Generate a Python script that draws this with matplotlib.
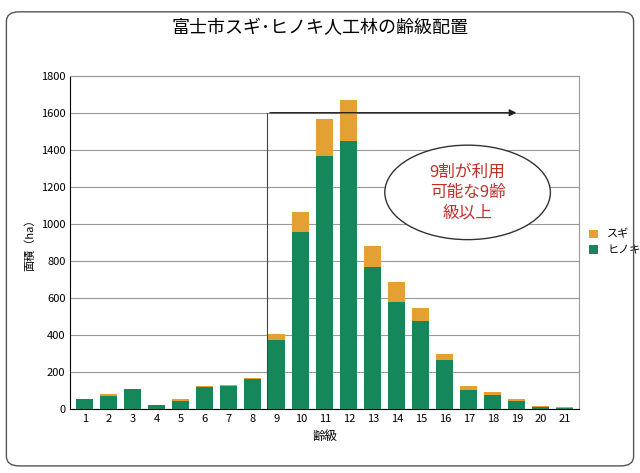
import matplotlib
matplotlib.use("Agg")
import matplotlib.pyplot as plt
from matplotlib.patches import Ellipse, FancyBboxPatch
import numpy as np

plt.rcParams['font.family'] = 'Noto Sans CJK JP'

classes = [str(i) for i in range(1, 22)]
hinoki = [55, 70, 110, 20, 45, 120, 125, 165, 375, 955, 1365, 1445, 765, 580, 475, 265, 105, 75, 45, 10, 8]
sugi = [0, 10, 0, 0, 10, 5, 3, 3, 30, 110, 200, 225, 115, 105, 70, 35, 20, 15, 10, 5, 4]
yticks = [0, 200, 400, 600, 800, 1000, 1200, 1400, 1600, 1800]

fig = plt.figure(figsize=(6.4, 4.73), dpi=100)
fig.patches.append(FancyBboxPatch((0.01, 0.015), 0.98, 0.96, boxstyle="round,pad=0,rounding_size=0.02",
                                  transform=fig.transFigure, fill=False, ec='#555555', lw=1))
ax = fig.add_axes([0.11, 0.135, 0.795, 0.705])
x = np.arange(1, 22)
ax.bar(x, hinoki, width=0.72, color='#15875a', label='ヒノキ', zorder=3)
ax.bar(x, sugi, width=0.72, bottom=hinoki, color='#e3a033', label='スギ', zorder=3)
ax.set_xlim(0.4, 21.6)
ax.set_ylim(0, 1800)
ax.set_yticks(yticks)
ax.set_xticks(x)
ax.set_xticklabels(classes)
ax.tick_params(length=0, labelsize=8)
ax.yaxis.grid(True, color='#999999', lw=0.8, zorder=0)
for s in ['top', 'right']:
    ax.spines[s].set_color('#999999')
ax.set_xlabel('齢級', fontsize=9)
ax.set_ylabel('面積（ha）', fontsize=8)
fig.text(0.5, 0.93, '富士市スギ･ヒノキ人工林の齢級配置', ha='center', fontsize=13)
h, l = ax.get_legend_handles_labels()
ax.legend(h[::-1], l[::-1], loc='center left', bbox_to_anchor=(1.0, 0.5), frameon=False, fontsize=8,
          handlelength=0.8, handleheight=0.8)
ax.plot([8.6, 8.6], [0, 1600], color='#444444', lw=0.8, zorder=4)
ax.annotate('', xy=(19.1, 1600), xytext=(8.6, 1600),
            arrowprops=dict(arrowstyle='-|>', color='#222222', lw=1), zorder=4)
ax.add_patch(Ellipse((16.95, 1170), 6.9, 510, fill=True, fc='white', ec='#333333', lw=1, zorder=5))
ax.text(16.95, 1170, '9割が利用\n可能な9齢\n級以上', ha='center', va='center', color='#c0302a',
        fontsize=12, linespacing=1.25, zorder=6)
fig.savefig('out.png', dpi=100)
